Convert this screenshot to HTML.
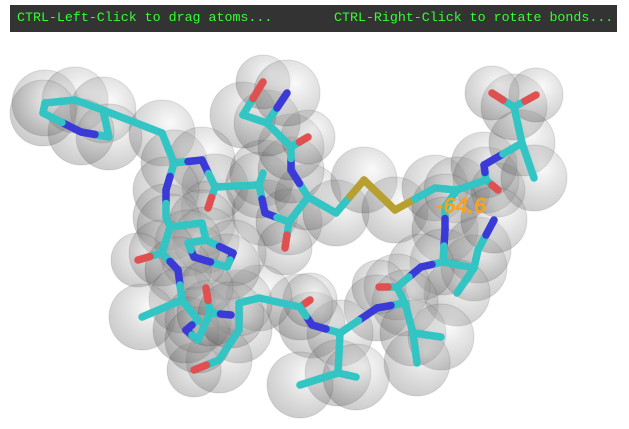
<!DOCTYPE html>
<html><head><meta charset="utf-8"><style>
html,body{margin:0;padding:0;background:#fff;width:629px;height:429px;overflow:hidden}
#banner{position:absolute;left:10px;top:5px;width:607px;height:27px;background:#333}
.bt{position:absolute;top:5px;font:13.3px "Liberation Mono",monospace;color:#3f3}
svg{position:absolute;left:0;top:0}
</style></head><body>
<svg id="mol" width="629" height="429">
<defs><radialGradient id="sg" cx="0.62" cy="0.35" r="0.7"><stop offset="0" stop-color="#eee" stop-opacity="0.3"/><stop offset="1" stop-color="#444" stop-opacity="0.28"/></radialGradient></defs>
<g id="spheres"></g>
<g id="sticks"></g>
<text x="436" y="213" font-family="Liberation Sans, sans-serif" font-size="22" font-weight="bold" font-style="italic" fill="#f9a21b">-64.6</text>
</svg>
<div id="banner">
<span class="bt" style="left:7px">CTRL-Left-Click to drag atoms...</span>
<span class="bt" style="left:324px">CTRL-Right-Click to rotate bonds...</span>
</div>
<script>
const C='#33c4c4',N='#3a3ad8',O='#e05050',S='#b8a030';
const atoms={
r1:[45,103,C],r2:[75,100,C],r3:[103,110,C],r4:[109,137,C],r5:[81,132,N],r6:[43,113,C],
a1:[162,133,C],a2:[174,163,C],n1:[202,160,N],c1:[215,187,C],o1:[208,208,O],c2:[259,185,C],m1:[263,173,C],
n2:[265,213,N],c3:[289,222,C],o2:[285,248,O],ca3:[308,197,C],n3:[291,170,N],c4:[291,147,C],o3:[308,137,O],
c5:[267,123,C],c6:[243,115,C],o4:[263,82,O],n4:[287,93,N],
b1:[336,213,C],s1:[364,180,S],s2:[395,210,S],b2:[435,188,C],b3:[457,190,C],c7:[486,180,C],o5:[498,190,O],
n5:[484,165,N],ca5:[522,143,C],c8:[514,107,C],o6:[536,95,O],o7:[492,93,O],m2:[534,178,C],
d1:[445,207,C],n6:[445,230,N],ca6:[443,262,C],d2:[474,268,C],d3:[478,250,C],d4:[494,220,N],d5:[457,293,C],
n7:[421,267,N],c9:[397,287,C],o8:[379,287,O],ca7:[405,303,C],n8:[377,308,N],e1:[413,333,C],e2:[441,337,C],e3:[417,363,C],
ca8:[340,333,C],n9:[312,325,N],c10:[300,307,C],o9:[310,300,O],f1:[259,298,C],f2:[239,303,C],f3:[239,330,C],f4:[219,360,C],o10:[194,370,O],
g1:[338,373,C],g2:[300,385,C],g3:[356,377,C],
n10:[166,190,N],h1:[166,217,C],ca9:[170,227,C],h2:[202,223,C],h3:[206,240,C],h4:[233,253,N],h5:[227,267,C],h6:[194,257,N],h7:[188,243,C],
c11:[162,253,C],o11:[138,260,O],n11:[178,270,N],i1:[182,300,C],i2:[142,317,C],i3:[198,320,C],n12:[186,330,N],i4:[198,340,C],i5:[210,313,C],o12:[206,288,O],i6:[231,315,N]
};
const bonds=[['r1','r2'],['r2','r3'],['r3','r4'],['r4','r5'],['r5','r6'],['r6','r1'],['r3','a1'],['a1','a2'],['a2','n1'],['n1','c1'],['c1','o1'],['c1','c2'],['c2','m1'],['c2','n2'],['n2','c3'],['c3','o2'],['c3','ca3'],['ca3','n3'],['n3','c4'],['c4','o3'],['c4','c5'],['c5','c6'],['c6','o4'],['c5','n4'],
['ca3','b1'],['b1','s1'],['s1','s2'],['s2','b2'],['b2','b3'],['b3','c7'],['c7','o5'],['c7','n5'],['n5','ca5'],['ca5','c8'],['c8','o6'],['c8','o7'],['ca5','m2'],
['b3','d1'],['d1','n6'],['n6','ca6'],['ca6','d2'],['d2','d3'],['d3','d4'],['d2','d5'],['ca6','n7'],['n7','c9'],['c9','o8'],['c9','ca7'],['ca7','n8'],['ca7','e1'],['e1','e2'],['e1','e3'],
['n8','ca8'],['ca8','n9'],['n9','c10'],['c10','o9'],['c10','f1'],['f1','f2'],['f2','f3'],['f3','f4'],['f4','o10'],['ca8','g1'],['g1','g2'],['g1','g3'],
['a2','n10'],['n10','h1'],['h1','ca9'],['ca9','h2'],['h2','h3'],['h3','h4'],['h4','h5'],['h5','h6'],['h6','h7'],['h7','h3'],['ca9','c11'],['c11','o11'],['c11','n11'],['n11','i1'],['i1','i2'],['i1','i3'],['i3','n12'],['n12','i4'],['i4','i5'],['i5','o12'],['i5','i6']];
const NS='http://www.w3.org/2000/svg';
const sp=document.getElementById('spheres'),st=document.getElementById('sticks');
for(const k in atoms){const a=atoms[k];const c=document.createElementNS(NS,'circle');
c.setAttribute('cx',a[0]);c.setAttribute('cy',a[1]);c.setAttribute('r',a[2]==O?27:33);
c.setAttribute('fill','url(#sg)');c.setAttribute('stroke','rgba(0,0,0,0.1)');


sp.appendChild(c);}
function seg(x1,y1,x2,y2,col){const l=document.createElementNS(NS,'line');
l.setAttribute('x1',x1);l.setAttribute('y1',y1);l.setAttribute('x2',x2);l.setAttribute('y2',y2);
l.setAttribute('stroke',col);l.setAttribute('stroke-width',7.5);l.setAttribute('stroke-linecap','round');


st.appendChild(l);}
bonds.forEach(([p,q])=>{const a=atoms[p],b=atoms[q];const mx=(a[0]+b[0])/2,my=(a[1]+b[1])/2;
seg(a[0],a[1],mx,my,a[2]);seg(mx,my,b[0],b[1],b[2]);});
</script>
</body></html>
